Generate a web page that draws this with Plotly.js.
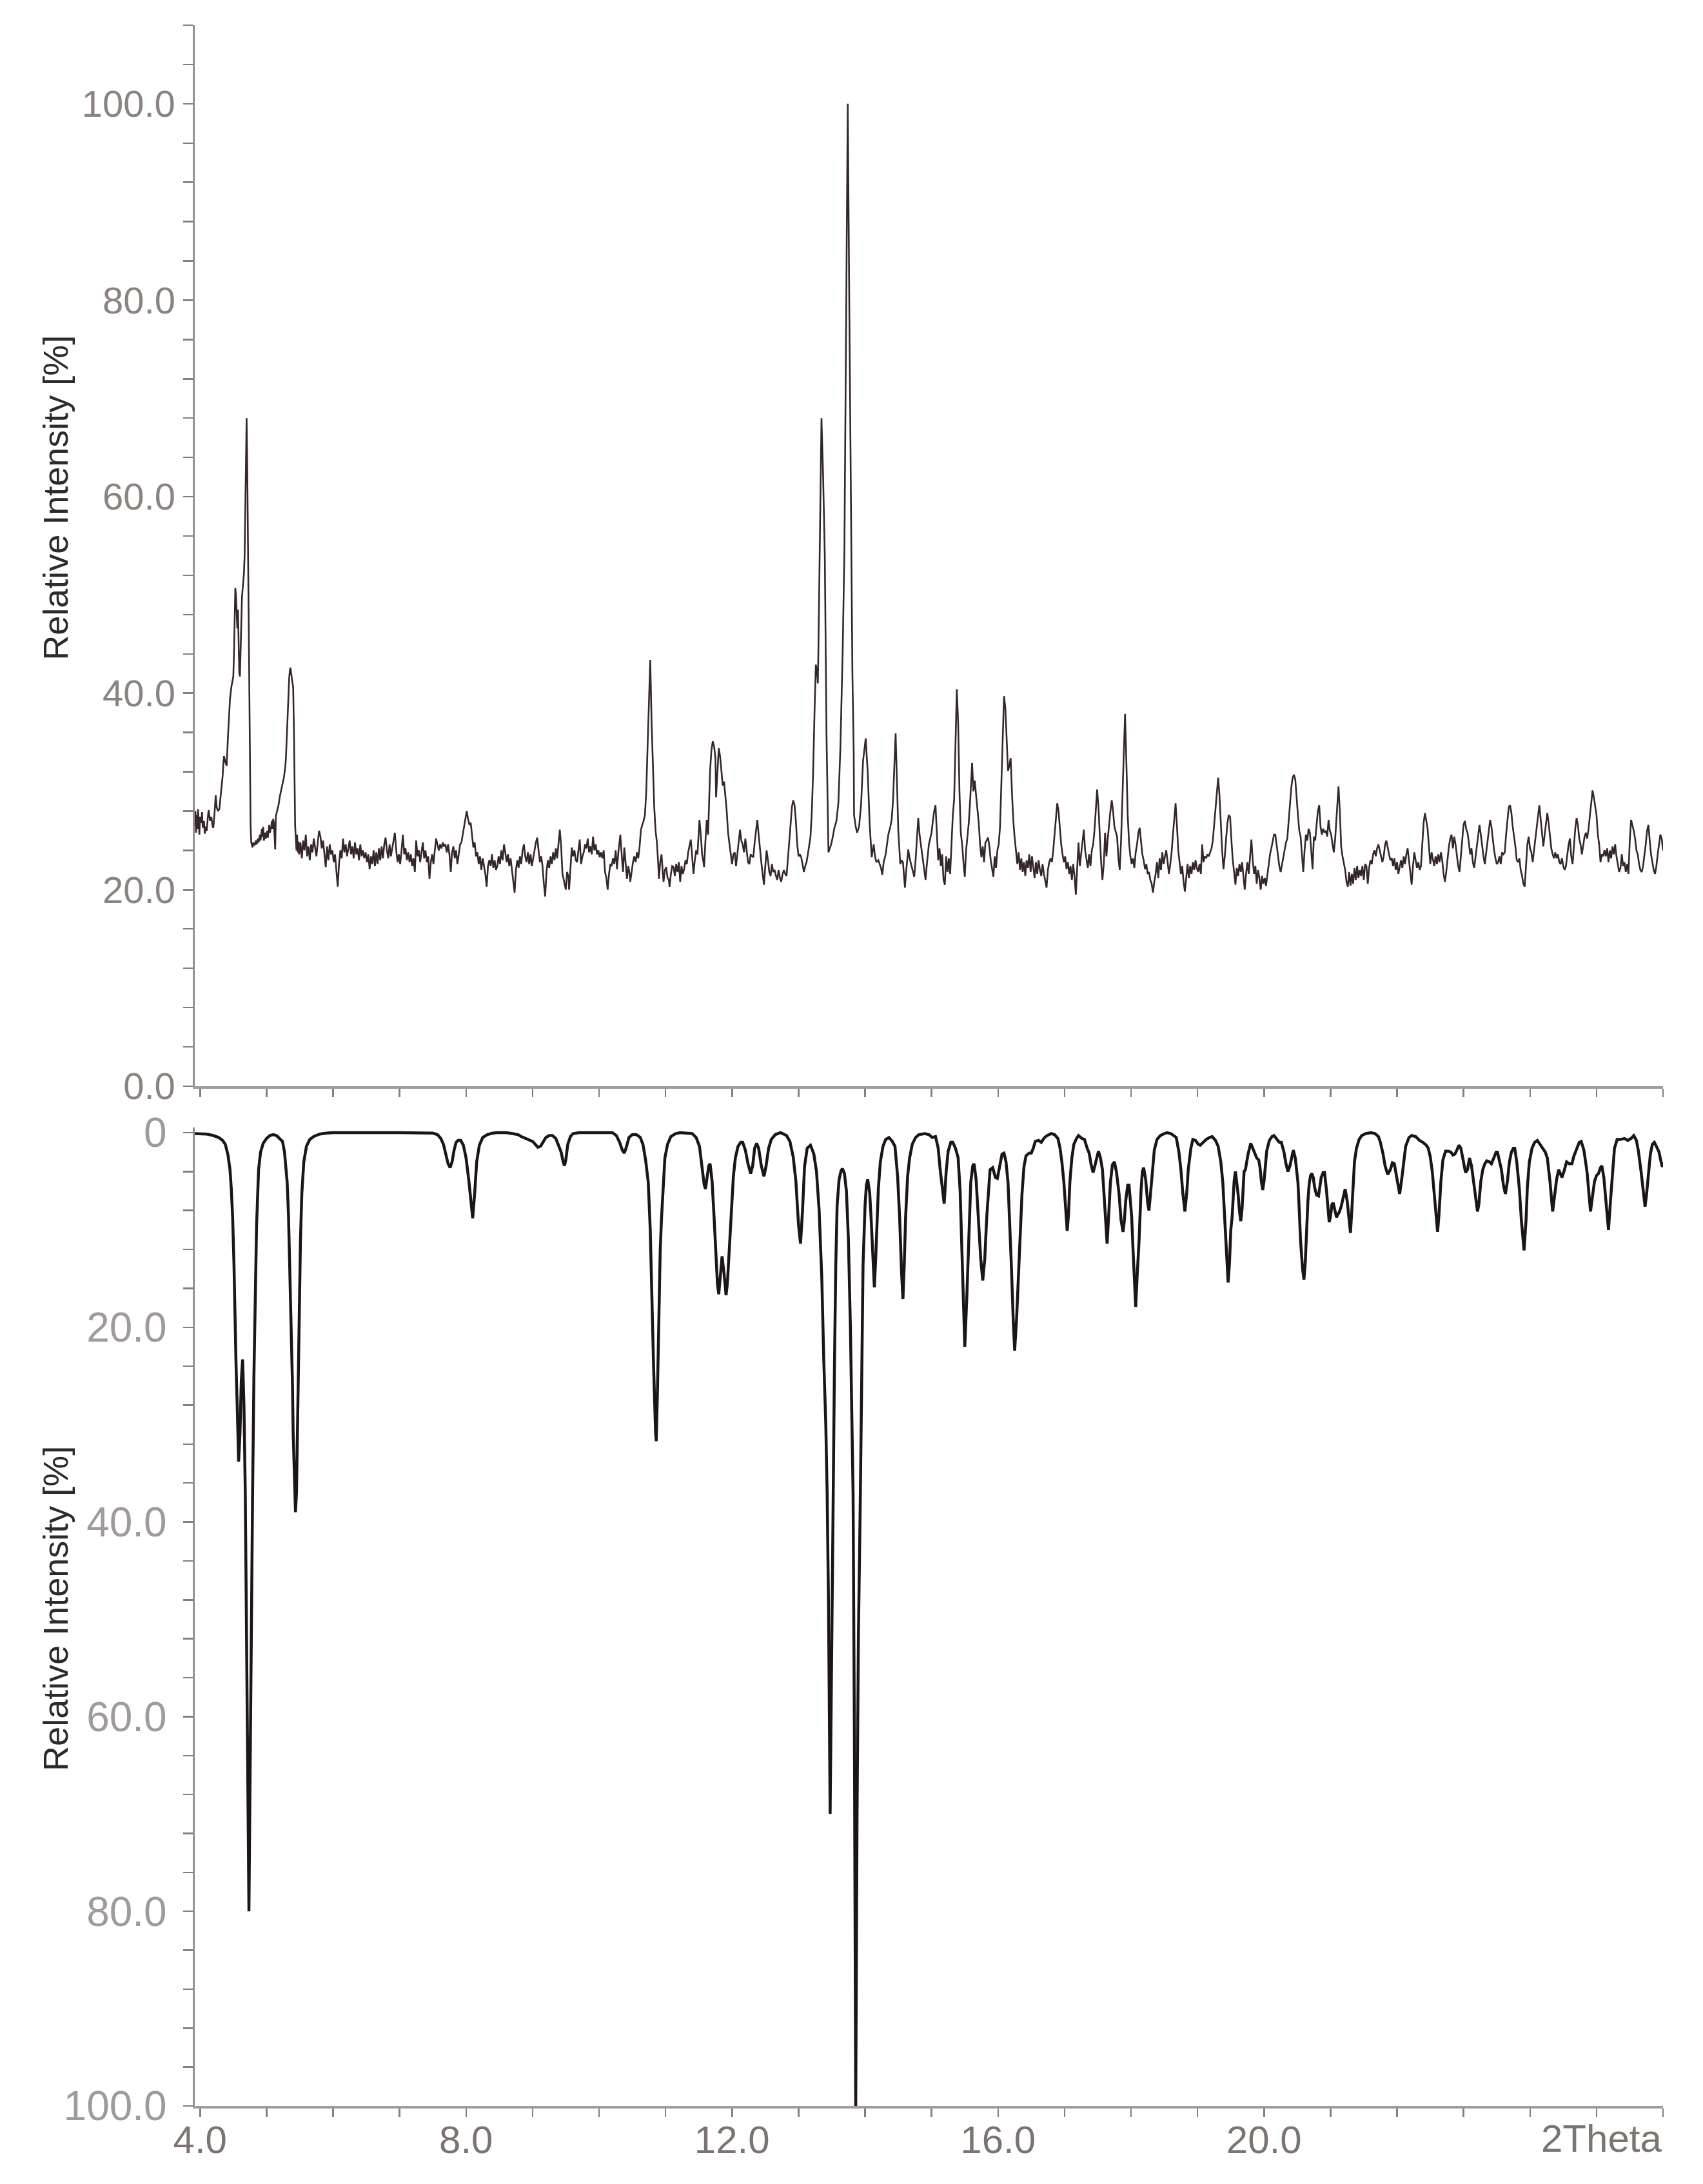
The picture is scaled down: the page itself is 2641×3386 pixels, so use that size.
<!DOCTYPE html>
<html><head><meta charset="utf-8">
<script src="https://cdn.plot.ly/plotly-3.0.1.min.js"></script>
<style>html,body{margin:0;padding:0;background:#fff;} #chart{width:2641px;height:3386px;}</style>
</head><body><div id="chart"></div>
<script>
// ---------- measured (top) pattern: [2theta, relative intensity %] ----------
const expSegA = [[3.92,26.5],[3.93,28.0],[3.94,25.8],[3.95,27.6],[3.96,26.2],[3.97,28.2],[3.98,27.0],[3.99,25.6],[4.00,27.4],[4.02,26.8],[4.03,27.9],[4.04,26.3],[4.06,27.0],[4.07,25.7],[4.09,26.4],[4.10,26.0],[4.12,27.6],[4.13,28.1],[4.15,27.0],[4.17,27.4],[4.19,26.4],[4.20,26.3],[4.22,28.0],[4.235,29.6],[4.25,28.4],[4.27,28.0],[4.29,28.2],[4.31,29.4],[4.33,31.0],[4.34,31.6],[4.35,32.8],[4.36,33.6],[4.38,33.0],[4.40,32.6],[4.42,35.6],[4.44,38.4],[4.45,39.4],[4.47,40.6],[4.49,41.4],[4.50,41.7],[4.51,44.0],[4.52,47.5],[4.53,50.7],[4.54,50.0],[4.55,47.5],[4.56,46.6],[4.57,48.5],[4.58,45.0],[4.59,42.0],[4.60,41.7],[4.61,45.0],[4.62,48.5],[4.63,49.7],[4.64,50.6],[4.65,51.4],[4.66,52.2],[4.67,54.0],[4.68,58.0],[4.69,63.5],[4.70,68.0],[4.71,63.0],[4.72,55.0],[4.73,46.0],[4.74,38.0],[4.75,31.0],[4.76,26.5],[4.77,24.8],[4.79,24.3],[4.80,24.8],[4.82,24.5],[4.84,25.0],[4.85,24.6],[4.87,25.2],[4.88,24.8],[4.90,25.6],[4.91,25.0],[4.93,26.2],[4.94,25.4],[4.95,26.4],[4.96,25.0],[4.98,25.8],[4.99,25.2],[5.01,26.0],[5.02,25.3],[5.04,26.6],[5.05,25.8],[5.07,26.4],[5.08,27.0],[5.09,26.2],[5.10,27.2],[5.11,26.8],[5.12,25.0],[5.13,24.1],[5.14,27.5],[5.16,28.0],[5.18,28.6],[5.20,29.5],[5.22,30.2],[5.24,30.8],[5.26,31.4],[5.28,32.4],[5.29,33.2],[5.30,34.8],[5.31,36.5],[5.32,38.5],[5.33,40.0],[5.34,41.5],[5.35,42.3],[5.36,42.6],[5.37,42.0],[5.38,41.4],[5.39,41.2],[5.40,40.6],[5.41,37.0],[5.42,31.0],[5.43,26.5],[5.44,25.2],[5.45,24.0],[5.46,25.6],[5.47,23.8],[5.48,24.9],[5.49,23.6]];
const expSegB = [[5.51,24.8],[5.53,23.2],[5.55,25.0],[5.57,24.0],[5.59,25.6],[5.61,23.4],[5.63,24.4],[5.65,23.0],[5.67,24.6],[5.69,23.8],[5.71,25.2],[5.73,24.2],[5.75,23.4],[5.77,24.8],[5.79,26.0],[5.81,25.4],[5.83,24.2],[5.85,25.0],[5.87,23.6],[5.89,22.3],[5.91,24.4],[5.93,23.0],[5.95,24.6],[5.97,23.6],[5.99,24.0],[6.01,22.8],[6.03,23.6],[6.05,22.0],[6.07,20.3],[6.09,22.6],[6.11,24.0],[6.13,23.2],[6.15,25.2],[6.17,23.8],[6.19,24.6],[6.21,23.4],[6.23,24.2],[6.25,25.0],[6.27,23.6],[6.29,24.4],[6.31,23.2],[6.33,24.8],[6.35,23.6],[6.37,24.2],[6.39,23.0],[6.41,24.6],[6.43,23.4],[6.45,24.0],[6.47,23.2],[6.49,23.8],[6.51,22.8],[6.53,23.6],[6.55,22.1],[6.57,23.4],[6.59,22.6],[6.61,24.0],[6.63,22.4],[6.65,23.8],[6.67,22.6],[6.69,24.2],[6.71,23.0],[6.73,24.4],[6.75,23.2],[6.77,24.6],[6.79,25.3],[6.81,24.0],[6.83,23.2],[6.85,24.6],[6.87,23.4],[6.89,24.2],[6.91,25.0],[6.93,25.8],[6.95,24.0],[6.97,22.8],[6.99,23.6],[7.01,22.6],[7.03,24.0],[7.05,25.6],[7.07,23.6],[7.09,24.2],[7.11,23.0],[7.13,23.8],[7.15,22.8],[7.17,23.6],[7.19,22.4],[7.21,23.2],[7.23,21.8],[7.25,25.0],[7.27,23.4],[7.29,24.0],[7.31,22.8],[7.33,23.8],[7.35,24.8],[7.37,23.2],[7.39,24.0],[7.41,22.8],[7.43,23.4],[7.45,21.1],[7.47,22.8],[7.49,23.6],[7.51,22.6],[7.53,24.0],[7.55,25.2],[7.57,24.6],[7.59,24.0],[7.61,24.6],[7.63,24.2],[7.65,24.8],[7.67,24.4],[7.69,24.6],[7.71,23.8],[7.73,24.6],[7.75,23.6],[7.77,21.8],[7.79,23.8],[7.81,24.4],[7.83,23.2],[7.85,24.0],[7.87,22.6],[7.89,23.6],[7.91,24.6],[7.93,24.8],[7.95,25.6],[7.97,26.4],[7.99,27.4],[8.01,28.0],[8.03,27.2],[8.05,26.6],[8.07,26.8],[8.09,25.4],[8.11,24.3],[8.13,24.8],[8.15,23.4],[8.17,23.8],[8.19,22.6],[8.21,23.4],[8.23,22.0],[8.25,23.2],[8.27,22.4],[8.29,21.6],[8.31,20.3],[8.33,22.4],[8.35,23.0],[8.37,22.4],[8.39,23.6],[8.41,22.2],[8.43,23.0],[8.45,22.0],[8.47,22.4],[8.49,23.4],[8.51,22.6],[8.53,24.0],[8.55,23.0],[8.57,24.6],[8.59,23.8],[8.61,22.8],[8.63,23.6],[8.65,22.4],[8.67,23.2],[8.69,22.0],[8.71,21.0],[8.73,19.7],[8.75,22.0],[8.77,23.0],[8.79,22.2],[8.81,23.4],[8.83,22.6],[8.85,24.0],[8.87,24.6],[8.89,23.4],[8.91,22.8],[8.93,23.8],[8.95,22.6],[8.97,23.6],[8.99,22.4],[9.01,23.2],[9.03,24.2],[9.05,24.8],[9.07,25.3],[9.09,23.8],[9.11,22.8],[9.13,23.4],[9.15,22.4],[9.17,20.6],[9.19,19.3],[9.21,21.8],[9.23,23.0],[9.25,22.2],[9.27,23.4],[9.29,22.6],[9.31,23.8],[9.33,23.0],[9.35,24.2],[9.37,23.2],[9.39,24.6],[9.41,26.1],[9.43,24.4]];
const expSegC = [[9.45,21.6],[9.47,21.0],[9.49,20.4],[9.50,20.0],[9.52,21.8],[9.54,21.3],[9.55,20.0],[9.57,22.6],[9.59,24.3],[9.61,23.4],[9.63,24.0],[9.65,23.0],[9.67,22.8],[9.69,24.0],[9.71,25.1],[9.73,22.6],[9.75,23.4],[9.77,23.8],[9.79,24.6],[9.81,24.2],[9.83,25.2],[9.85,23.8],[9.87,24.4],[9.89,23.6],[9.91,25.4],[9.93,24.0],[9.95,24.6],[9.97,23.6],[9.99,24.0],[10.01,23.3],[10.03,23.8],[10.05,23.2],[10.07,24.0],[10.09,21.8],[10.11,21.2],[10.13,20.0],[10.15,21.6],[10.17,22.6],[10.19,22.4],[10.21,23.2],[10.23,22.6],[10.25,24.0],[10.27,22.1],[10.29,23.8],[10.31,24.8],[10.32,25.6],[10.34,23.6],[10.36,21.8],[10.38,24.3],[10.40,22.6],[10.42,21.1],[10.44,22.4],[10.46,21.6],[10.47,20.8],[10.49,22.0],[10.51,22.8],[10.53,23.4],[10.55,22.8],[10.57,23.8],[10.59,23.2],[10.61,24.4],[10.63,26.1],[10.65,26.6],[10.67,27.0],[10.69,27.6],[10.71,30.0],[10.73,34.6],[10.75,39.5],[10.77,43.4],[10.79,37.1],[10.81,32.0],[10.83,28.4],[10.85,26.0],[10.87,24.8],[10.89,22.6],[10.90,21.1],[10.92,22.8],[10.94,23.6],[10.96,21.6],[10.97,20.8],[10.99,22.0],[11.01,22.3],[11.03,21.2],[11.05,21.0],[11.06,20.3],[11.08,21.6],[11.10,22.4],[11.12,22.3],[11.14,21.4],[11.16,22.6],[11.18,21.8],[11.20,22.8],[11.22,20.8],[11.24,22.4],[11.26,21.6],[11.28,22.1],[11.30,23.0],[11.32,22.6],[11.34,23.8],[11.36,24.4],[11.38,25.1],[11.40,23.4],[11.42,21.6],[11.44,23.0],[11.46,24.0],[11.48,23.6],[11.50,25.6],[11.51,27.1],[11.53,25.6],[11.55,23.6],[11.57,22.8],[11.58,22.3],[11.60,25.0],[11.62,27.1],[11.64,25.6],[11.66,30.0],[11.67,32.1],[11.69,34.2],[11.71,35.1],[11.73,34.6],[11.75,33.4],[11.76,29.4],[11.78,31.6],[11.80,34.4],[11.82,33.6],[11.84,32.1],[11.86,30.6],[11.88,31.0],[11.90,29.6],[11.92,28.0],[11.94,25.8],[11.96,24.6],[11.98,23.4],[12.00,22.6],[12.02,23.6],[12.04,23.8],[12.06,22.4],[12.08,23.6],[12.10,24.8],[12.12,26.1],[12.14,25.0],[12.16,24.6],[12.18,23.8],[12.20,25.2],[12.22,24.0],[12.24,22.8],[12.26,22.6],[12.28,23.6],[12.30,23.4],[12.32,23.3],[12.34,24.8],[12.36,26.0],[12.38,27.1],[12.40,25.6],[12.42,24.0],[12.44,22.8],[12.46,21.6],[12.48,20.5],[12.50,22.4],[12.52,24.0],[12.54,23.0],[12.56,21.8],[12.58,21.4],[12.60,22.6],[12.62,21.8],[12.64,22.0],[12.66,21.4],[12.68,21.0],[12.70,22.0],[12.72,21.2],[12.74,20.8],[12.76,21.6],[12.78,22.0],[12.80,21.6],[12.82,21.4],[12.84,23.0],[12.86,24.6],[12.88,26.6],[12.90,28.4],[12.92,29.1],[12.94,28.6],[12.96,27.0],[12.98,24.6],[13.00,23.4],[13.02,23.6],[13.04,23.3],[13.06,22.6],[13.08,21.8],[13.10,22.4],[13.12,22.8],[13.14,23.6],[13.16,24.6],[13.18,25.4],[13.20,28.0],[13.22,32.1],[13.24,38.0],[13.26,42.9],[13.28,42.0],[13.29,41.0],[13.30,45.0],[13.32,55.0],[13.345,68.0],[13.37,62.0],[13.395,54.0],[13.42,36.0],[13.45,23.8],[13.47,24.2],[13.49,24.6],[13.51,25.2],[13.54,26.3],[13.57,27.0],[13.60,28.9],[13.63,34.6],[13.665,44.7],[13.69,54.8],[13.715,78.0],[13.74,100.0],[13.765,78.0],[13.79,54.8],[13.81,42.0],[13.83,33.9],[13.835,27.6],[13.86,26.4],[13.88,25.8],[13.91,26.4],[13.94,28.6],[13.97,33.1],[14.01,35.4],[14.04,32.0],[14.07,26.6],[14.10,23.3],[14.13,24.6],[14.15,23.4],[14.17,22.8],[14.20,23.0],[14.22,22.6],[14.24,22.2],[14.26,21.5],[14.28,22.8],[14.31,23.6],[14.33,24.6],[14.35,25.6],[14.38,26.4],[14.40,27.1],[14.42,29.0],[14.44,32.6],[14.46,35.9],[14.48,31.0],[14.50,26.0],[14.53,22.6],[14.55,23.0],[14.57,22.8],[14.59,21.2],[14.60,20.2],[14.62,22.0],[14.65,24.1],[14.67,23.2],[14.69,22.6],[14.71,22.0],[14.74,21.3],[14.76,23.0],[14.78,25.4],[14.80,27.3],[14.82,25.6],[14.84,24.6],[14.87,23.3],[14.89,22.0],[14.91,21.0],[14.93,22.6],[14.96,24.6],[14.98,25.2],[15.00,25.8],[15.02,27.0],[15.04,28.0]];
const expSegD = [[15.06,28.6],[15.08,26.0],[15.10,23.0],[15.12,24.2],[15.14,22.4],[15.16,23.6],[15.18,21.0],[15.20,20.5],[15.22,23.4],[15.24,21.8],[15.26,23.2],[15.28,21.6],[15.30,25.0],[15.32,27.6],[15.34,29.2],[15.36,36.0],[15.38,40.4],[15.40,37.0],[15.42,30.0],[15.44,25.8],[15.46,24.6],[15.48,22.8],[15.50,21.3],[15.52,24.0],[15.54,25.4],[15.56,26.8],[15.58,29.0],[15.60,31.5],[15.61,32.9],[15.63,30.0],[15.65,31.1],[15.67,29.6],[15.69,28.4],[15.71,26.8],[15.73,24.6],[15.75,23.3],[15.77,24.4],[15.79,22.8],[15.81,24.8],[15.83,25.0],[15.85,25.3],[15.87,24.4],[15.89,23.0],[15.91,22.0],[15.93,21.3],[15.95,23.4],[15.97,22.2],[15.99,24.0],[16.01,24.6],[16.03,26.4],[16.05,31.0],[16.07,36.0],[16.09,39.7],[16.11,38.5],[16.13,35.0],[16.15,32.1],[16.17,32.6],[16.19,33.4],[16.21,29.8],[16.23,27.0],[16.25,25.3],[16.27,24.0],[16.29,22.6],[16.31,23.8],[16.33,22.0],[16.35,23.2],[16.37,21.8],[16.39,22.8],[16.41,21.4],[16.43,23.0],[16.45,22.2],[16.47,23.6],[16.49,21.8],[16.51,23.4],[16.53,22.4],[16.55,21.2],[16.57,22.8],[16.59,21.6],[16.61,23.0],[16.63,22.0],[16.65,21.4],[16.67,22.6],[16.69,21.6],[16.71,20.8],[16.73,20.2],[16.75,22.0],[16.77,22.8],[16.79,23.2],[16.81,22.8],[16.83,24.0],[16.85,25.6],[16.87,27.5],[16.89,28.8],[16.91,28.0],[16.93,26.4],[16.95,24.6],[16.97,23.6],[16.99,22.8],[17.01,23.4],[17.03,22.1],[17.05,22.8],[17.07,21.6],[17.09,22.4],[17.11,21.0],[17.13,22.6],[17.15,21.4],[17.17,19.5],[17.19,22.0],[17.21,24.8],[17.23,22.4],[17.25,23.6],[17.27,25.0],[17.29,26.1],[17.31,24.0],[17.33,23.0],[17.35,22.2],[17.37,23.6],[17.39,22.4],[17.41,24.0],[17.43,24.6],[17.45,26.0],[17.47,28.4],[17.49,30.2],[17.51,28.4],[17.53,25.0],[17.55,22.8],[17.57,21.0],[17.59,22.6],[17.61,25.8],[17.63,23.4],[17.65,25.2],[17.67,26.8],[17.69,28.0],[17.71,29.1],[17.73,28.0],[17.75,26.4],[17.77,25.8],[17.79,25.4],[17.81,23.2],[17.83,22.0],[17.85,25.0],[17.87,29.0],[17.89,33.0],[17.91,37.9],[17.93,33.0],[17.95,27.6],[17.97,24.8],[17.99,23.4],[18.01,22.6],[18.03,23.2],[18.05,22.2],[18.07,23.8],[18.09,24.6],[18.11,25.8],[18.13,26.3],[18.15,25.0],[18.17,23.6],[18.19,23.0],[18.21,22.1],[18.23,22.6],[18.25,21.6],[18.27,21.8],[18.29,21.0],[18.31,20.6],[18.33,19.7],[18.35,20.8],[18.37,21.6],[18.39,22.8],[18.41,21.2],[18.43,23.2],[18.45,22.0],[18.47,23.8],[18.49,22.6],[18.51,23.4],[18.53,24.0],[18.55,22.8],[18.57,21.6],[18.59,22.6],[18.61,23.8],[18.63,25.6],[18.65,27.4],[18.67,28.8],[18.69,26.6],[18.71,24.0],[18.73,22.8],[18.75,21.6],[18.77,22.4],[18.79,20.8],[18.81,19.8],[18.83,21.4],[18.85,22.6],[18.87,21.2],[18.89,22.4],[18.91,21.6],[18.93,22.8],[18.95,22.0],[18.97,23.0],[18.99,22.2],[19.01,21.8],[19.03,22.6],[19.05,21.6],[19.07,24.6],[19.09,22.8],[19.11,23.4],[19.13,23.2],[19.15,23.6],[19.17,23.4],[19.19,23.8],[19.21,24.2],[19.23,25.0],[19.25,26.6],[19.27,28.4],[19.29,30.0],[19.31,31.4],[19.33,29.6],[19.35,26.4],[19.37,24.0],[19.39,22.1],[19.41,23.4],[19.43,25.2],[19.45,26.8],[19.47,27.6],[19.49,27.4],[19.51,25.0],[19.53,23.0],[19.55,21.8],[19.57,20.5],[19.59,22.2],[19.61,21.4],[19.63,22.6],[19.65,21.8],[19.67,22.8],[19.69,21.2],[19.71,20.0],[19.73,21.6],[19.75,22.8],[19.77,21.6],[19.79,23.2],[19.81,25.1],[19.83,23.0],[19.85,21.6],[19.87,22.4],[19.89,20.6],[19.91,22.0],[19.93,21.2],[19.95,20.0],[19.97,21.4],[19.99,20.6],[20.01,21.2],[20.03,20.4],[20.05,21.6],[20.07,22.4],[20.09,23.6],[20.11,24.2],[20.13,25.0],[20.15,25.6],[20.17,25.6],[20.19,24.4],[20.21,23.4],[20.23,22.4],[20.25,21.8],[20.27,22.6],[20.29,23.4],[20.31,24.0],[20.33,24.8],[20.35,25.2],[20.37,27.0],[20.39,28.8],[20.41,30.4],[20.43,31.4],[20.45,31.7],[20.47,31.2],[20.49,29.0],[20.51,27.6],[20.53,26.0],[20.55,25.4],[20.57,23.6],[20.59,21.8],[20.61,24.0],[20.63,25.6],[20.65,25.0],[20.67,26.2]];
const expSegE = [[20.69,25.8],[20.71,24.0],[20.73,22.1],[20.75,25.4],[20.77,25.0],[20.79,26.6],[20.81,28.0],[20.83,28.6],[20.85,26.4],[20.87,25.6],[20.89,26.2],[20.91,25.8],[20.93,26.0],[20.95,25.4],[20.97,27.1],[20.99,26.0],[21.01,25.6],[21.03,24.6],[21.05,23.8],[21.07,25.2],[21.09,27.6],[21.11,29.8],[21.12,30.5],[21.14,28.0],[21.16,24.4],[21.18,23.4],[21.20,22.6],[21.22,22.0],[21.24,20.8],[21.26,20.3],[21.28,21.8],[21.30,20.4],[21.32,21.6],[21.34,20.6],[21.36,22.2],[21.38,21.0],[21.40,22.4],[21.42,21.2],[21.44,22.0],[21.46,21.4],[21.48,22.4],[21.50,21.0],[21.52,22.6],[21.54,22.4],[21.56,20.6],[21.58,22.2],[21.60,23.0],[21.62,22.6],[21.64,23.6],[21.66,24.0],[21.68,23.4],[21.70,24.2],[21.72,24.6],[21.74,24.0],[21.76,23.2],[21.78,22.8],[21.80,23.4],[21.82,24.6],[21.84,25.0],[21.86,24.2],[21.88,23.6],[21.90,23.0],[21.92,23.2],[21.94,22.4],[21.96,23.2],[21.98,22.0],[22.00,22.8],[22.02,21.6],[22.04,22.4],[22.06,23.0],[22.08,22.2],[22.10,23.4],[22.12,22.6],[22.14,23.6],[22.16,24.2],[22.18,23.0],[22.20,21.4],[22.22,20.5],[22.24,22.4],[22.26,23.8],[22.28,23.0],[22.30,22.2],[22.32,22.8],[22.34,22.0],[22.36,22.4],[22.38,24.4],[22.40,26.8],[22.42,27.8],[22.44,27.0],[22.46,26.2],[22.48,24.4],[22.50,22.6],[22.52,23.8],[22.54,23.2],[22.56,22.4],[22.58,23.4],[22.60,22.6],[22.62,23.6],[22.64,22.8],[22.66,23.8],[22.68,23.0],[22.70,21.6],[22.72,20.8],[22.74,21.8],[22.76,23.2],[22.78,24.4],[22.80,25.2],[22.82,25.6],[22.84,24.2],[22.86,25.4],[22.88,24.6],[22.90,23.4],[22.92,22.4],[22.94,21.8],[22.96,23.2],[22.98,25.0],[23.00,26.6],[23.02,27.0],[23.04,26.2],[23.06,25.8],[23.08,24.8],[23.10,23.6],[23.12,24.2],[23.14,22.8],[23.16,22.2],[23.18,23.4],[23.20,24.6],[23.22,25.8],[23.24,26.6],[23.26,25.6],[23.28,24.4],[23.30,23.4],[23.32,22.6],[23.34,23.8],[23.36,25.0],[23.38,26.2],[23.40,27.1],[23.42,26.4],[23.44,25.0],[23.46,24.0],[23.48,23.2],[23.50,22.6],[23.52,22.8],[23.54,23.4],[23.56,22.6],[23.58,23.8],[23.60,23.6],[23.62,23.8],[23.64,25.6],[23.66,27.2],[23.68,28.4],[23.70,28.6],[23.72,27.8],[23.74,26.4],[23.76,25.4],[23.78,24.4],[23.80,23.0],[23.82,22.8],[23.84,23.2],[23.86,22.0],[23.88,21.4],[23.90,20.6],[23.92,20.3],[23.94,22.6],[23.96,24.6],[23.98,25.4],[24.00,24.2],[24.02,23.8],[24.04,22.8],[24.06,24.0],[24.08,25.2],[24.10,26.4],[24.12,27.6],[24.14,28.6],[24.16,27.2],[24.18,25.6],[24.20,24.4],[24.22,25.6],[24.24,26.8],[24.26,27.8],[24.28,26.8],[24.30,25.6],[24.32,24.2],[24.34,23.6],[24.36,23.2],[24.38,23.8],[24.40,23.2],[24.42,23.6],[24.44,22.8],[24.46,22.6],[24.48,23.2],[24.50,22.4],[24.52,22.0],[24.54,22.4],[24.56,23.6],[24.58,24.6],[24.60,25.2],[24.62,23.4],[24.64,22.6],[24.66,24.4],[24.68,26.2],[24.70,27.3],[24.72,26.6],[24.74,25.2],[24.76,24.6],[24.78,23.6],[24.80,24.6],[24.82,25.4],[24.84,25.8],[24.86,25.2],[24.88,26.2],[24.90,27.6],[24.92,29.0],[24.94,30.1],[24.96,29.4],[24.98,28.4],[25.00,27.6],[25.02,25.6],[25.04,24.6],[25.06,22.8],[25.08,23.6],[25.10,23.4],[25.12,24.0],[25.14,23.4],[25.16,24.2],[25.18,22.8],[25.20,24.0],[25.22,23.2],[25.24,24.4],[25.26,23.6],[25.28,24.6],[25.30,23.4],[25.32,22.6],[25.34,21.8],[25.36,22.2],[25.38,23.6],[25.40,22.4],[25.42,22.8],[25.44,21.8],[25.46,22.6],[25.48,21.6],[25.50,25.0],[25.52,27.1],[25.54,26.6],[25.56,26.0],[25.58,25.2],[25.60,24.0],[25.62,23.6],[25.64,22.6],[25.66,22.0],[25.68,21.8],[25.70,22.4],[25.72,23.4],[25.74,24.6],[25.76,26.0],[25.78,26.6],[25.80,25.0],[25.82,23.6],[25.84,22.8],[25.86,22.0],[25.88,21.6],[25.90,22.4],[25.92,23.6],[25.94,24.8],[25.96,25.6],[25.98,25.2],[26.00,24.0],[26.02,24.4]];

// ---------- calculated (bottom, mirrored) pattern: [2theta, relative intensity %] ----------
const calcSeg1 = [[3.92,0.1],[4.00,0.1],[4.10,0.15],[4.20,0.3],[4.28,0.5],[4.34,0.8],[4.38,1.2],[4.42,2.3],[4.45,3.8],[4.47,5.8],[4.49,8.7],[4.51,13.5],[4.52,18.5],[4.54,23.5],[4.56,28.4],[4.58,33.8],[4.60,31.0],[4.62,25.5],[4.64,23.3],[4.66,28.0],[4.68,37.0],[4.70,52.0],[4.72,70.0],[4.735,80.0],[4.75,68.0],[4.77,50.0],[4.79,37.0],[4.81,25.0],[4.83,16.1],[4.85,9.5],[4.88,3.8],[4.91,2.0],[4.95,1.1],[5.00,0.6],[5.05,0.3],[5.10,0.2],[5.15,0.3],[5.20,0.6],[5.24,0.9],[5.27,2.0],[5.29,3.4],[5.31,5.1],[5.33,8.5],[5.35,13.5],[5.37,18.5],[5.39,26.0],[5.40,30.8],[5.42,37.0],[5.435,39.0],[5.45,37.0],[5.47,27.0],[5.49,18.5],[5.51,11.0],[5.53,6.3],[5.56,3.0],[5.60,1.4],[5.65,0.7],[5.71,0.4],[5.80,0.15],[5.90,0.05],[6.00,0.0],[7.00,0.0],[7.50,0.05],[7.57,0.2],[7.62,0.6],[7.66,1.2],[7.70,2.3],[7.73,3.2],[7.76,3.6],[7.79,3.0],[7.82,1.8],[7.85,1.0],[7.88,0.8],[7.92,0.8],[7.96,1.3],[8.00,2.6],[8.04,4.8],[8.07,7.0],[8.10,8.8],[8.13,6.2],[8.16,3.0],[8.20,1.3],[8.25,0.5],[8.32,0.2],[8.40,0.05],[8.47,0.0],[8.60,0.0],[8.70,0.1],[8.78,0.2],[8.83,0.4],[8.90,0.6],[8.95,0.7],[9.00,0.9],[9.04,1.2],[9.08,1.5],[9.12,1.4],[9.16,0.9],[9.20,0.5],[9.25,0.3],[9.30,0.3],[9.35,0.6],[9.40,1.4],[9.43,2.0]];
const calcSeg2 = [[9.46,3.0],[9.48,3.4],[9.50,2.8],[9.53,1.2],[9.57,0.4],[9.61,0.1],[9.70,0.0],[10.20,0.0],[10.26,0.3],[10.31,1.0],[10.35,1.8],[10.38,2.1],[10.41,1.5],[10.45,0.5],[10.50,0.2],[10.56,0.2],[10.62,0.5],[10.66,1.2],[10.70,2.8],[10.74,5.1],[10.77,10.0],[10.79,16.1],[10.82,24.0],[10.85,30.8],[10.86,31.7],[10.88,26.0],[10.90,18.6],[10.92,12.0],[10.94,8.7],[10.97,4.5],[10.99,2.6],[11.03,1.2],[11.08,0.4],[11.15,0.1],[11.22,0.0],[11.40,0.1],[11.46,0.5],[11.51,1.4],[11.55,3.8],[11.58,5.3],[11.60,5.8],[11.62,4.8],[11.65,3.4],[11.67,3.2],[11.70,5.0],[11.73,8.7],[11.76,12.5],[11.78,15.5],[11.80,16.6],[11.82,15.0],[11.85,12.7],[11.88,14.5],[11.91,16.7],[11.93,15.5],[11.96,12.0],[11.98,9.0],[12.02,4.5],[12.05,2.6],[12.09,1.4],[12.13,1.0],[12.16,1.0],[12.20,1.8],[12.24,3.2],[12.28,4.2],[12.31,3.4],[12.34,1.6],[12.37,1.1],[12.40,1.6],[12.44,3.4],[12.48,4.5],[12.51,3.5],[12.55,1.6],[12.59,0.7],[12.65,0.2],[12.73,0.0],[12.82,0.3],[12.87,0.9],[12.92,2.5],[12.96,5.0],[13.00,9.5],[13.03,11.4],[13.06,8.0],[13.09,3.5],[13.13,1.6],[13.18,1.3],[13.23,2.2],[13.27,4.0],[13.31,8.0],[13.35,15.0],[13.38,23.5],[13.41,30.0],[13.43,37.0],[13.45,48.0],[13.475,70.0],[13.50,50.0],[13.52,37.0],[13.54,24.0],[13.56,13.6],[13.58,7.5],[13.61,4.8],[13.64,3.9],[13.66,3.7],[13.69,4.2],[13.72,6.0],[13.75,11.0],[13.78,20.0],[13.80,28.0],[13.82,37.0],[13.84,62.0],[13.86,100.0],[13.88,70.0],[13.90,52.0],[13.93,37.0],[13.95,22.0],[13.97,13.6],[14.00,7.5],[14.02,5.4],[14.04,4.8],[14.07,6.2],[14.09,8.6],[14.12,13.0],[14.14,15.9],[14.16,13.0],[14.18,8.6],[14.20,5.8],[14.23,3.0],[14.27,1.4],[14.31,0.7],[14.36,0.5],[14.41,0.9],[14.45,1.4],[14.49,4.5],[14.52,8.7],[14.55,14.5],[14.57,17.1],[14.59,13.5],[14.61,8.7],[14.64,4.5],[14.67,2.6],[14.71,1.2],[14.76,0.5],[14.81,0.2],[14.90,0.1],[14.96,0.2],[15.01,0.5],[15.06,0.4]];
const calcSeg3 = [[15.10,1.6],[15.13,3.8],[15.16,5.8],[15.19,7.3],[15.22,4.0],[15.25,1.9],[15.29,1.0],[15.32,1.0],[15.36,1.6],[15.40,2.6],[15.43,6.0],[15.45,11.2],[15.48,17.5],[15.50,22.0],[15.53,17.0],[15.56,11.2],[15.59,5.1],[15.62,3.4],[15.64,3.2],[15.67,4.8],[15.70,8.7],[15.74,13.0],[15.77,15.2],[15.80,13.0],[15.83,8.7],[15.86,5.5],[15.88,3.8],[15.92,3.6],[15.96,4.6],[15.99,4.7],[16.03,3.2],[16.06,2.2],[16.09,2.1],[16.12,3.0],[16.15,5.1],[16.18,9.5],[16.20,13.6],[16.23,19.5],[16.25,22.4],[16.28,19.0],[16.31,13.6],[16.34,8.5],[16.36,6.3],[16.39,3.5],[16.42,2.4],[16.45,2.2],[16.47,2.1],[16.50,2.1],[16.53,1.6],[16.56,0.9],[16.61,0.8],[16.65,1.0],[16.70,0.5],[16.74,0.3],[16.80,0.1],[16.85,0.2],[16.90,0.6],[16.93,1.5],[16.96,3.0],[16.99,5.1],[17.02,8.5],[17.04,10.1],[17.06,8.4],[17.08,5.1],[17.11,2.6],[17.14,1.2],[17.18,0.6],[17.21,0.3],[17.26,0.6],[17.30,0.7],[17.34,1.6],[17.37,2.1],[17.40,3.3],[17.43,4.1],[17.46,3.3],[17.49,2.3],[17.51,1.9],[17.54,2.6],[17.57,3.8],[17.60,7.0],[17.62,9.8],[17.64,11.4],[17.66,9.0],[17.69,5.1],[17.72,3.3],[17.75,3.0],[17.78,4.0],[17.82,6.3],[17.85,9.0],[17.88,10.2],[17.90,9.0],[17.92,7.0],[17.95,5.4],[17.97,5.4],[17.99,7.0],[18.01,8.7],[18.03,12.0],[18.05,16.0],[18.07,17.9],[18.09,15.0],[18.12,11.2],[18.15,6.0],[18.17,4.0],[18.19,3.6],[18.22,4.8],[18.25,7.2],[18.27,8.0],[18.29,6.5],[18.32,3.8],[18.35,1.8],[18.39,0.7],[18.44,0.3],[18.50,0.1],[18.54,0.0],[18.60,0.1],[18.65,0.4],[18.68,0.5],[18.72,2.0],[18.75,3.8],[18.78,6.3],[18.81,8.1],[18.84,6.0],[18.86,3.8],[18.90,1.6],[18.93,0.7],[18.97,0.8],[19.01,1.2],[19.04,1.3],[19.08,1.0],[19.13,0.7],[19.18,0.5],[19.22,0.4],[19.27,0.8],[19.31,1.4],[19.35,3.0],[19.38,5.1],[19.41,9.0],[19.44,13.0],[19.46,15.4],[19.48,13.5],[19.50,10.0],[19.52,8.7],[19.55,5.0],[19.57,4.0],[19.59,5.1],[19.61,6.3],[19.63,8.0],[19.65,9.1],[19.67,7.8],[19.70,4.0],[19.72,3.8],[19.76,2.2],[19.80,1.1],[19.83,1.6],[19.86,2.1],[19.89,2.6],[19.92,2.8],[19.94,3.6],[19.96,5.0],[19.98,5.9],[20.00,5.0],[20.02,3.0],[20.04,1.9],[20.08,0.8],[20.12,0.4],[20.15,0.3],[20.19,0.6],[20.23,1.0],[20.26,1.0],[20.30,2.0],[20.33,3.2],[20.36,4.0],[20.39,3.4],[20.42,2.2],[20.44,1.8],[20.47,2.6],[20.51,5.1],[20.53,8.0],[20.55,11.2],[20.58,14.0],[20.60,15.1],[20.62,13.4],[20.64,10.0],[20.66,7.0],[20.68,5.2]];
const calcSeg4 = [[20.70,4.4],[20.72,4.2],[20.74,4.6],[20.76,5.6],[20.79,6.4],[20.82,6.5],[20.84,5.4],[20.86,4.6],[20.89,4.1],[20.91,4.1],[20.94,6.0],[20.96,8.0],[20.98,9.2],[21.00,8.6],[21.02,7.4],[21.04,7.2],[21.06,7.8],[21.09,8.7],[21.11,8.4],[21.13,8.2],[21.16,7.6],[21.19,6.6],[21.22,5.8],[21.25,7.0],[21.28,9.0],[21.30,10.3],[21.32,8.0],[21.34,5.0],[21.36,3.0],[21.39,1.6],[21.43,0.7],[21.47,0.3],[21.53,0.1],[21.61,0.0],[21.67,0.1],[21.72,0.4],[21.75,1.0],[21.79,2.2],[21.82,3.4],[21.86,4.3],[21.90,3.8],[21.93,3.1],[21.96,3.2],[21.99,4.4],[22.02,5.8],[22.04,6.3],[22.07,4.8],[22.10,2.8],[22.13,1.4],[22.18,0.5],[22.22,0.3],[22.28,0.4],[22.34,0.8],[22.39,1.0],[22.44,1.3],[22.47,1.6],[22.50,2.5],[22.53,4.0],[22.56,6.6],[22.59,9.0],[22.61,10.2],[22.63,8.5],[22.66,5.0],[22.69,2.8],[22.73,1.9],[22.77,1.9],[22.81,2.0],[22.84,2.3],[22.87,2.2],[22.90,1.8],[22.93,1.3],[22.96,1.6],[22.99,2.6],[23.03,4.1],[23.06,3.8],[23.09,2.6],[23.12,3.4],[23.15,5.0],[23.18,6.8],[23.21,8.1],[23.23,7.4],[23.26,5.0],[23.29,3.8],[23.32,3.2],[23.35,2.9],[23.39,3.0],[23.42,3.2],[23.46,2.6],[23.49,2.0],[23.51,2.0],[23.54,2.8],[23.57,3.8],[23.60,5.4],[23.63,6.3],[23.66,5.0],[23.69,3.0],[23.72,2.0],[23.75,1.6],[23.77,1.6],[23.80,3.0],[23.84,5.8],[23.87,9.0],[23.91,12.1],[23.94,9.0],[23.96,5.6],[23.99,3.0],[24.03,1.6],[24.07,1.0],[24.11,0.8],[24.15,1.2],[24.19,1.6],[24.23,2.0],[24.26,2.6],[24.30,5.0],[24.34,8.1],[24.37,6.5],[24.40,4.8],[24.43,3.8],[24.46,4.3],[24.48,4.6],[24.51,4.0],[24.55,3.0],[24.59,3.2],[24.63,3.2],[24.66,2.4],[24.70,1.6],[24.74,1.0],[24.77,0.9],[24.81,1.8],[24.84,3.2],[24.86,4.2],[24.89,6.6],[24.91,8.1],[24.94,6.5],[24.97,5.0],[25.00,4.4],[25.03,4.2],[25.06,3.6],[25.08,3.4],[25.11,4.6],[25.14,7.0],[25.16,9.0],[25.18,10.0],[25.21,7.0],[25.24,3.8],[25.27,1.6],[25.31,0.7],[25.36,0.7],[25.42,0.6],[25.47,0.8],[25.52,0.6],[25.56,0.3],[25.60,0.8],[25.63,1.9],[25.67,4.0],[25.70,5.6],[25.73,7.6],[25.75,6.5],[25.78,4.0],[25.81,2.2],[25.84,1.2],[25.87,1.0],[25.90,1.4],[25.94,2.0],[25.97,3.0],[25.99,3.5],[26.01,3.2],[26.04,2.7]];

// ---------- axis ticks / labels ----------
const xTickVals = [4,5,6,7,8,9,10,11,12,13,14,15,16,17,18,19,20,21,22,23,24,25,26];
const xTickText = ['4.0','','','','8.0','','','','12.0','','','','16.0','','','','20.0','','','','','',''];
const topTickVals = [0,4,8,12,16,20,24,28,32,36,40,44,48,52,56,60,64,68,72,76,80,84,88,92,96,100,104,108];
const topTickText = ['0.0','','','','','20.0','','','','','40.0','','','','','60.0','','','','','80.0','','','','','100.0','',''];
const botTickVals = [0,4,8,12,16,20,24,28,32,36,40,44,48,52,56,60,64,68,72,76,80,84,88,92,96,100];
const botTickText = ['0','','','','','20.0','','','','','40.0','','','','','60.0','','','','','80.0','','','','','100.0'];
const yTitleText = 'Relative Intensity [%]';
const xTitleText = '2Theta';

const expAll = [].concat(expSegA, expSegB, expSegC, expSegD, expSegE);
const calcAll = [].concat(calcSeg1, calcSeg2, calcSeg3, calcSeg4);

const traces = [
  {x: expAll.map(p => p[0]), y: expAll.map(p => p[1]), xaxis: 'x', yaxis: 'y', type: 'scatter', mode: 'lines',
   line: {color: '#35262e', width: 2.6}, hoverinfo: 'skip'},
  {x: calcAll.map(p => p[0]), y: calcAll.map(p => p[1]), xaxis: 'x2', yaxis: 'y2', type: 'scatter', mode: 'lines',
   line: {color: '#1b1517', width: 4.5}, hoverinfo: 'skip'}
];

const axisLine = '#948e8a';
const tickCol = '#857e7a';
const sansFont = 'Liberation Sans, Arial, Helvetica, sans-serif';

const layout = {
  width: 2641, height: 3386,
  margin: {l: 302, r: 62, t: 39, b: 121, pad: 0},
  paper_bgcolor: '#ffffff', plot_bgcolor: '#ffffff',
  showlegend: false,
  xaxis: {domain: [0, 1], range: [3.92, 26.0], anchor: 'y', tickmode: 'array', tickvals: xTickVals, ticktext: xTickText,
    showticklabels: false, ticks: 'outside', ticklen: 13, tickwidth: 2.5, tickcolor: tickCol,
    showline: true, linecolor: '#a29c98', linewidth: 4, showgrid: false, zeroline: false, fixedrange: true},
  yaxis: {domain: [0.4901, 1], range: [0, 108], anchor: 'x', tickmode: 'array', tickvals: topTickVals, ticktext: topTickText,
    ticks: 'outside', ticklen: 15, tickwidth: 2.5, tickcolor: tickCol, ticklabelstandoff: 0,
    tickfont: {family: sansFont, size: 58, color: '#8a837f'},
    showline: true, linecolor: axisLine, linewidth: 3.5, showgrid: false, zeroline: false, fixedrange: true},
  xaxis2: {domain: [0, 1], range: [3.92, 26.0], anchor: 'y2', tickmode: 'array', tickvals: xTickVals, ticktext: xTickText,
    showticklabels: true, ticks: 'outside', ticklen: 13, tickwidth: 2.5, tickcolor: tickCol, ticklabelstandoff: -16,
    tickfont: {family: sansFont, size: 60, color: '#7b7470'},
    showline: true, linecolor: '#a29c98', linewidth: 4, showgrid: false, zeroline: false, fixedrange: true},
  yaxis2: {domain: [0, 0.4701], range: [100, -0.5], anchor: 'x2', tickmode: 'array', tickvals: botTickVals, ticktext: botTickText,
    ticks: 'outside', ticklen: 15, tickwidth: 2.5, tickcolor: tickCol, ticklabelstandoff: 12,
    tickfont: {family: sansFont, size: 64, color: '#a09b98'},
    showline: true, linecolor: axisLine, linewidth: 3.5, showgrid: false, zeroline: false, fixedrange: true},
  annotations: [
    {text: yTitleText, xref: 'paper', yref: 'paper', x: -0.0949, y: 0.7728, xanchor: 'center', yanchor: 'middle',
     textangle: -90, showarrow: false, font: {family: sansFont, size: 54, color: '#2e2a2a'}},
    {text: yTitleText, xref: 'paper', yref: 'paper', x: -0.0949, y: 0.2390, xanchor: 'center', yanchor: 'middle',
     textangle: -90, showarrow: false, font: {family: sansFont, size: 54, color: '#2e2a2a'}},
    {text: xTitleText, xref: 'x2', yref: 'paper', x: 26.0, y: 0, xanchor: 'right', yanchor: 'middle', yshift: -50,
     showarrow: false, font: {family: sansFont, size: 60, color: '#7b7470'}}
  ]
};

Plotly.newPlot('chart', traces, layout, {displayModeBar: false, staticPlot: true, responsive: false});
</script>
</body></html>
